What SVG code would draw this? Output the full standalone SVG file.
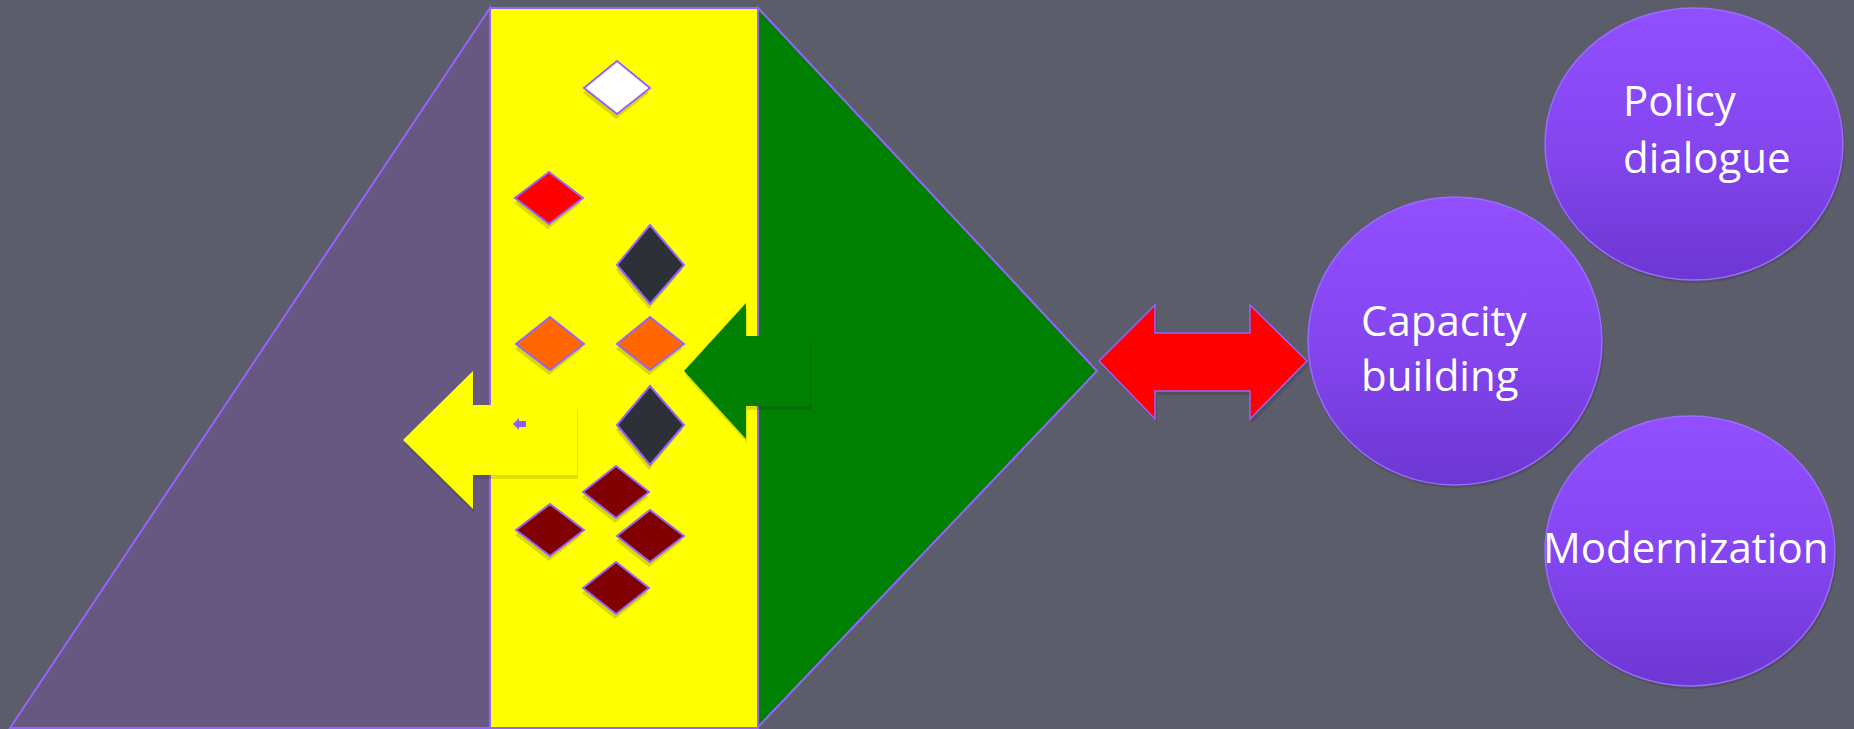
<svg xmlns="http://www.w3.org/2000/svg" width="1854" height="729" viewBox="0 0 1854 729">
<defs>
<linearGradient id="eg" x1="0" y1="0" x2="0" y2="1">
<stop offset="0" stop-color="#914FFF"/>
<stop offset="0.5" stop-color="#8546F0"/>
<stop offset="1" stop-color="#6D37D3"/>
</linearGradient>
<style>
.edge{stroke:#9563FF;stroke-width:2;stroke-linejoin:miter}
.dia{stroke:#9563FF;stroke-width:2}
.dsh{fill:#000;fill-opacity:0.15}
.ash{fill:#000;fill-opacity:0.12}
.ell{fill:url(#eg);stroke:#9A6BFF;stroke-width:1.5}
.esh{fill:#000;fill-opacity:0.12}
.lbl{font-family:"Open Sans","Noto Sans",sans-serif;font-size:42px;fill:#FFFFFF}
</style>
</defs>
<rect width="1854" height="729" fill="#5B5D6B"/>
<g id="purple-triangle">
<polygon points="490,8 10,728 490,728" fill="#675882" class="edge"/>
</g>
<g id="green-triangle">
<polygon points="758,8 1097,371 758,727" fill="#008000" class="edge"/>
</g>
<g id="yellow-column">
<rect x="490" y="8" width="268" height="720" fill="#FFFF00" class="edge"/>
</g>
<g id="diamonds">
<g id="d1"><polygon class="dsh" points="616,66 649,93 616,119 583,93"/><polygon class="dia" fill="#FFFFFF" points="617,61 650,88 617,114 584,88"/></g>
<g id="d2"><polygon class="dsh" points="548,177 581,203 548,229 514,203"/><polygon class="dia" fill="#FF0000" points="549,172 583,198 549,224 515,198"/></g>
<g id="d3"><polygon class="dsh" points="649,230 682,270 649,309 616,270"/><polygon class="dia" fill="#2E3037" points="650,225 684,265 650,304 617,265"/></g>
<g id="d4"><polygon class="dsh" points="549,322 582,349 549,375 515,349"/><polygon class="dia" fill="#FF6600" points="550,317 584,344 550,370 516,344"/></g>
<g id="d5"><polygon class="dsh" points="649,322 682,349 649,375 616,349"/><polygon class="dia" fill="#FF6600" points="650,317 684,344 650,370 617,344"/></g>
<g id="d6"><polygon class="dsh" points="649,391 682,430 649,470 616,430"/><polygon class="dia" fill="#2E3037" points="650,386 684,425 650,465 617,425"/></g>
<g id="d7"><polygon class="dsh" points="615,471 648,497 615,523 582,497"/><polygon class="dia" fill="#800000" points="616,466 649,492 616,518 583,492"/></g>
<g id="d8"><polygon class="dsh" points="549,509 582,535 549,561 515,535"/><polygon class="dia" fill="#800000" points="550,504 584,530 550,556 516,530"/></g>
<g id="d9"><polygon class="dsh" points="649,515 682,541 649,567 616,541"/><polygon class="dia" fill="#800000" points="650,510 684,536 650,562 617,536"/></g>
<g id="d10"><polygon class="dsh" points="615,567 648,593 615,619 582,593"/><polygon class="dia" fill="#800000" points="616,562 649,588 616,614 583,588"/></g>
</g>
<g id="connectors">
<g id="yellow-arrow">
<polygon class="ash" points="404,444 474,375 474,409 578,409 578,479 474,479 474,513"/>
<polygon points="403,440 473,371 473,405 577,405 577,475 473,475 473,509" fill="#FFFF00"/>
<polygon points="513,424 519,418 519,421 526,421 526,427 519,427 519,430" fill="#8F5CFF"/>
</g>
<g id="green-arrow">
<polygon class="ash" points="685,375 747,307 747,340 811,340 811,410 747,410 747,443"/>
<polygon points="684,371 746,303 746,336 810,336 810,406 746,406 746,439" fill="#008000"/>
</g>
<g id="red-arrow">
<polygon class="ash" points="1101,365 1157,309 1157,337 1252,337 1252,309 1309,365 1252,423 1252,395 1157,395 1157,423"/>
<polygon points="1099,361 1155,305 1155,333 1250,333 1250,305 1307,361 1250,419 1250,391 1155,391 1155,419" fill="#FF0000" stroke="#9563FF" stroke-width="1.5"/>
</g>
</g>
<g id="policy-dialogue">
<ellipse class="esh" cx="1695" cy="147" rx="150" ry="136"/>
<ellipse class="ell" cx="1694" cy="144" rx="149" ry="136"/>
<text class="lbl" x="1623" y="116">Policy</text>
<text class="lbl" x="1623" y="173">dialogue</text>
</g>
<g id="capacity-building">
<ellipse class="esh" cx="1456" cy="344" rx="148" ry="144"/>
<ellipse class="ell" cx="1455" cy="341" rx="147" ry="144"/>
<text class="lbl" x="1361" y="336">Capacity</text>
<text class="lbl" x="1361" y="391">building</text>
</g>
<g id="modernization">
<ellipse class="esh" cx="1691" cy="554" rx="146" ry="135"/>
<ellipse class="ell" cx="1690" cy="551" rx="145" ry="135"/>
<text class="lbl" x="1543" y="563">Modernization</text>
</g>
</svg>
